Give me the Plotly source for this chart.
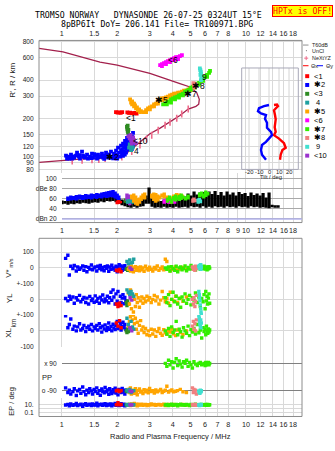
import math
import plotly.graph_objects as go

W, H = 335, 451

# ---------------- ticks / labels ----------------
freq_ticks_top = [1, 1.5, 2, 3, 4, 5, 6, 7, 8, 10, 12, 14, 16, 18]
freq_ticks_amp = [1, 1.5, 2, 3, 4, 5, 6, 7, 8, 9, 10, 12, 14, 16, 18]
height_ticks = [80, 90, 100, 120, 150, 200, 300, 400, 600, 800]
amp_ticks = [20, 40, 60, 80, 100]
amp_tick_text = ["dBn 20", "40", "60", "dBe 80", "100"]
tilt_ticks = [-20, -10, 0, 10, 20]

mode_names = ["<1", "✱2", "<3", " 4", "✱5", "<6", "✱7", "✱8", " 9", "<10"]
mode_colors = ["#ff0000", "#0000ff", "#2e8b22", "#1fa0a0", "#ffa500",
               "#ff00ff", "#33ee00", "#f08080", "#40e0d0", "#9a32cd"]

# ---------------- top panel: profile ----------------
prof_f = [0.753, 1.016, 1.614, 2.0, 3.01, 3.87, 4.38, 4.97, 5.40, 5.58, 5.54, 5.35,
          4.86, 4.38, 3.87, 3.42, 3.01, 2.66, 2.45, 2.25, 2.0, 1.614, 1.257, 0.98, 0.753]
prof_h = [710, 667, 554, 525, 451, 395, 375, 353, 319, 283, 259, 249,
          237, 211, 187, 168, 152, 131, 116.6, 106.7, 100.6, 97.5, 96.2, 93.7, 90.4]

nexyz_f = [1.14, 1.29, 1.46, 1.59, 1.72, 1.95, 2.12, 2.40, 2.66, 2.89, 3.08, 3.34, 3.64, 3.87, 4.21, 4.48, 4.86]
nexyz_h = [93, 94, 95, 95.5, 97, 100, 100, 110, 124, 138, 148, 162, 177, 187, 201, 217, 237]

# ---------------- top panel: echoes (freq MHz, range km) ----------------
top_blue_f = [1.055, 1.069, 1.095, 1.123, 1.138, 1.168, 1.196, 1.211, 1.241, 1.257, 1.289, 1.305, 1.338,
              1.372, 1.389, 1.424, 1.460, 1.479, 1.516, 1.554, 1.574, 1.614, 1.654, 1.676, 1.718, 1.740,
              1.784, 1.806, 1.851, 1.876, 1.922, 1.947, 1.972, 1.997, 2.022, 2.047, 2.073, 2.099, 2.125,
              2.125, 2.152, 2.179, 2.179, 2.206, 2.206, 2.234, 2.234, 2.262, 2.262, 2.290, 2.290, 2.319,
              2.348, 2.348, 2.378, 2.408, 2.408, 2.438, 2.438,
              1.10, 1.15, 1.25, 1.32, 1.45, 1.50, 1.58, 1.66, 1.70, 1.76, 1.82, 1.90, 1.95, 2.00, 2.10,
              2.15, 2.20, 2.25, 2.28, 2.32, 2.36, 2.40]
top_blue_h = [102.4, 97.1, 100.6, 104.2, 97.1, 98.8, 102.4, 108.0, 100.6, 97.1, 109.9, 102.4, 98.8,
              104.2, 97.1, 100.6, 106.1, 98.8, 102.4, 97.1, 104.2, 100.6, 106.1, 98.8, 102.4, 108.0,
              98.8, 104.2, 109.9, 100.6, 106.1, 98.8, 111.9, 104.2, 118.0, 108.0, 100.6, 122.3, 113.9,
              106.1, 126.7, 118.0, 109.9, 133.7, 124.5, 115.9, 108.0, 141.0, 131.3, 122.3, 113.9, 148.7,
              136.1, 126.7, 118.0, 143.5, 131.3, 154.1, 122.3,
              97, 101, 103, 100, 98, 105, 99, 102, 96.5, 104, 99, 97.5, 103, 97, 112,
              102, 104, 125, 135, 128, 142, 115]
top_red_f = [1.97, 2.01, 2.05, 2.09, 2.13, 2.27, 2.31, 2.35, 2.40, 2.45, 2.50, 2.55]
top_red_h = [224, 222, 223, 221, 224, 223, 221, 222, 220, 219, 221, 218]
top_dgreen_f = [2.26, 2.27, 2.28, 2.29, 2.28, 2.30]
top_dgreen_h = [172, 166, 160, 155, 176, 163]
top_teal_f = [2.32, 2.36, 2.40, 2.34, 2.38, 2.43]
top_teal_h = [118, 121, 117, 125, 113, 119]
top_purple_f = [2.30, 2.34, 2.38, 2.42, 2.46, 2.52, 2.36, 2.44, 2.40]
top_purple_h = [145, 140, 135, 130, 136, 128, 148, 142, 127]
top_orange_f = [2.35, 2.38, 2.41, 2.44, 2.47, 2.50, 2.53, 2.56, 2.59, 2.63, 2.66, 2.69, 2.41, 2.47,
                2.79, 2.87, 2.94, 3.01, 3.09, 3.17, 3.25, 3.33, 3.42, 3.50, 3.59, 3.68, 3.77, 3.87,
                3.97, 4.07, 4.17, 4.28, 4.38, 4.49, 4.61, 4.73, 4.85, 4.97, 5.10,
                2.87, 3.01, 3.17, 3.33, 3.50, 3.68, 3.87, 4.07, 4.28, 4.49, 4.73, 4.97]
top_orange_h = [282, 267, 258, 262, 249, 253, 240, 244, 232, 236, 224, 228, 272, 262,
                224, 232, 240, 244, 249, 258, 262, 272, 282, 287, 287, 292, 297, 303,
                308, 313, 313, 319, 319, 325, 331, 331, 337, 343, 349,
                224, 236, 249, 262, 277, 282, 292, 303, 308, 313, 319, 331]
top_mag_f = [3.42, 3.50, 3.59, 3.68, 3.77, 3.87, 3.97, 4.07, 4.17, 4.28, 4.38, 4.49, 3.50, 3.68, 3.87, 4.07, 4.28]
top_mag_h = [525, 534, 544, 554, 564, 574, 584, 594, 605, 605, 616, 627, 516, 534, 554, 574, 584]
top_lime_f = [3.55, 3.64, 3.72, 3.82, 3.92, 4.02, 4.12, 4.23, 4.33, 4.43, 4.55, 4.67, 4.79, 4.91, 5.03,
              5.16, 5.29, 5.42, 5.56, 5.70, 5.85, 5.99, 6.15, 6.31, 6.38,
              3.72, 3.92, 4.12, 4.33, 4.55, 4.79, 5.03, 5.29, 5.56, 5.85, 6.15]
top_lime_h = [258, 262, 267, 272, 282, 287, 292, 297, 303, 308, 313, 325, 331, 337, 349,
              355, 361, 375, 381, 395, 409, 424, 439, 455, 472,
              258, 267, 282, 292, 303, 319, 337, 349, 368, 395, 424]
top_sal_f = [5.18, 5.22, 5.28, 5.33, 5.25]
top_sal_h = [378, 368, 358, 372, 350]
top_cyan_f = [5.62, 5.65, 5.68, 5.70, 5.66, 5.72, 5.75, 5.70]
top_cyan_h = [495, 480, 465, 450, 440, 425, 410, 400]

# echo labels (text, freq, range)
lab_text = ["<1", "✱2", "4", "<10", "✱5", "<6", "✱7", "✱8", "9"]
lab_f = [2.378, 1.876, 2.53, 2.66, 3.46, 4.02, 4.97, 5.49, 5.99]
lab_h = [201, 99.5, 112, 133.7, 277, 574, 313, 361, 424]

# ---------------- tilt inset ----------------
tiltx_deg = [5, 8, 9, 5, 6, 6.7, 5.7, 6.7, 5, 10, 15, 16.7, 13.4, 11.7, 11]
tiltx_h = [255, 257, 250, 232, 213, 197, 171, 157, 148, 139, 128, 118, 113, 104, 95]
tilty_deg = [0, -5, -10, -11, -8, -3, -4, -2, -2, 2, 3, 0, -3, -7, -8, -7, -3]
tilty_h = [255, 250, 241, 228, 219, 213, 199, 185, 169, 157, 148, 139, 131, 124, 113, 104, 95]

# ---------------- amplitude panel ----------------
amp_f = [1.004, 1.042, 1.082, 1.123, 1.166, 1.211, 1.257, 1.305, 1.355, 1.407,
         1.461, 1.516, 1.574, 1.635, 1.697, 1.762, 1.829, 1.899, 1.972, 2.047,
         2.125, 2.206, 2.290, 2.378, 2.469, 2.563, 2.661, 2.763, 2.868, 2.978,
         3.092, 3.210, 3.332, 3.460, 3.592, 3.729, 3.872, 4.020, 4.173, 4.333,
         4.498, 4.670, 4.849, 5.034, 5.226, 5.426, 5.633, 5.849, 6.072, 6.304,
         6.545, 6.795, 7.054, 7.324, 7.603, 7.894, 8.195, 8.508, 8.833, 9.171,
         9.521, 9.885, 10.26, 10.65, 11.06, 11.48, 11.92, 12.38, 12.85, 13.34,
         13.85, 14.38, 14.93]
amp_lo = [49, 50, 48, 50, 49, 51, 50, 52, 51, 50, 52, 53, 52, 54, 53, 55, 54, 55, 53, 50,
          47, 45, 43, 42, 44, 42, 44, 45, 50, 50, 44, 42, 43, 42, 44, 42, 43, 42, 44, 42,
          43, 44, 42, 45, 43, 44, 42, 45, 42, 44, 42, 45, 43, 44, 42, 45, 43, 44, 42, 45,
          43, 44, 42, 45, 43, 44, 42, 43, 42, 41, 43, 42, 42]
amp_hi = [56, 55, 57, 58, 57, 59, 58, 60, 59, 61, 60, 62, 61, 63, 64, 63, 65, 66, 64, 60,
          58, 56, 58, 55, 53, 55, 57, 60, 66, 82, 60, 57, 56, 55, 58, 57, 56, 58, 57, 59,
          60, 64, 70, 66, 74, 68, 72, 73, 70, 74, 69, 75, 67, 73, 66, 74, 68, 72, 66, 73,
          69, 71, 65, 72, 67, 70, 66, 71, 62, 72, 48, 47, 47]

amp_blue_f = [1.08, 1.12, 1.16, 1.20, 1.25, 1.30, 1.35, 1.40, 1.45, 1.50, 1.55, 1.60, 1.65, 1.70,
              1.75, 1.80, 1.85, 1.90, 1.95, 2.00, 2.04]
amp_blue_lo = [55, 56, 57, 56, 58, 57, 58, 59, 58, 60, 59, 61, 60, 62, 61, 62, 63, 62, 60, 58, 56]
amp_blue_hi = [64, 66, 65, 67, 68, 67, 69, 68, 70, 69, 71, 70, 72, 73, 74, 75, 76, 77, 74, 70, 66]
amp_red_f = [2.00, 2.04, 2.08]
amp_red_lo = [49, 50, 51]
amp_red_hi = [56, 57, 55]
amp_dgreen_f = [2.22, 2.26]
amp_dgreen_lo = [52, 51]
amp_dgreen_hi = [60, 58]
amp_purple_f = [2.26, 2.30, 2.34, 2.38]
amp_purple_lo = [55, 50, 47, 52]
amp_purple_hi = [70, 68, 62, 60]
amp_teal_f = [2.28, 2.33, 2.38, 2.43]
amp_teal_lo = [50, 51, 52, 50]
amp_teal_hi = [58, 59, 57, 56]
amp_orange_f = [2.40, 2.46, 2.52, 2.58, 2.64, 2.70, 2.76, 2.82, 3.08, 3.16, 3.24, 3.32, 3.40, 3.50,
                3.60, 3.75, 3.90, 4.05, 4.20, 4.35, 4.50]
amp_orange_lo = [58, 52, 48, 46, 50, 55, 60, 58, 60, 55, 52, 54, 58, 62, 60, 55, 50, 56, 62, 64, 60]
amp_orange_hi = [68, 70, 66, 60, 62, 66, 70, 72, 70, 72, 71, 68, 66, 70, 72, 66, 64, 68, 71, 70, 68]
amp_mag_f = [3.60, 3.70, 3.80, 3.90, 4.00, 4.10]
amp_mag_lo = [50, 52, 50, 53, 51, 50]
amp_mag_hi = [58, 60, 57, 60, 58, 57]
amp_lime_f = [3.75, 3.85, 3.95, 4.05, 4.15, 4.25, 4.35, 4.45, 4.55, 4.70, 4.85, 5.60, 5.75, 5.90, 6.05, 6.20]
amp_lime_lo = [52, 55, 50, 56, 54, 58, 55, 57, 60, 56, 58, 62, 64, 60, 63, 66]
amp_lime_hi = [62, 66, 60, 65, 68, 64, 67, 70, 66, 64, 68, 72, 74, 70, 76, 73]
amp_sal_f = [5.15, 5.22, 5.30]
amp_sal_lo = [52, 54, 53]
amp_sal_hi = [60, 62, 59]
amp_cyan_f = [5.50, 5.58, 5.66]
amp_cyan_lo = [50, 52, 51]
amp_cyan_hi = [60, 61, 58]

# ---------------- lower panel: V*, YL, XL, PP, EP per mode ----------------
lb_f = [1.05, 1.08, 1.10, 1.12, 1.15, 1.17, 1.20, 1.22, 1.25, 1.27, 1.30, 1.32, 1.35, 1.37, 1.40, 1.42,
        1.45, 1.47, 1.50, 1.52, 1.55, 1.57, 1.60, 1.62, 1.65, 1.67, 1.70, 1.72, 1.75, 1.77, 1.80, 1.82,
        1.85, 1.87, 1.90, 1.92, 1.95, 1.97, 2.00, 2.02, 2.05, 2.08, 2.10, 2.13, 2.15, 2.18, 2.20, 2.23]
lb_v = [60, 80, -45, 10, -5, 15, -20, 5, -10, 0, 12, -15, 8, -25, 3, -8, 18, -12, 0, 6,
        -20, 10, -5, 15, -12, 2, -18, 8, -3, 12, -22, 5, -10, 16, -6, 0, -15, 10, -25, 4,
        20, -8, 12, -16, 6, -4, 14, -10]
lb_yl = [5, -10, 20, 0, 15, -25, 10, -5, 25, -15, 0, 12, -20, 8, -30, 18, -8, 3, -18, 22,
         -12, 6, -25, 14, -4, 28, -16, 2, -10, 20, -22, 10, 45, -6, 60, 15, -30, 35, -12, 50,
         -40, 20, -20, 8, 30, -28, 12, -8]
lb_xl = [95, 20, 40, 75, 10, 30, 0, 25, 45, 5, 15, 35, -5, 20, 30, 10, 40, 0, 25, 15,
         35, 5, 45, 20, -8, 30, 12, 38, 2, 22, 50, 10, 28, 0, 42, 18, 8, 35, 60, 15,
         25, 45, 5, 30, 55, 20, 40, 10]
lb_pp = [-70, -100, -85, -110, -95, -75, -120, -90, -80, -105, -65, -95, -115, -85, -100, -75, -90, -110, -80, -95,
         -70, -105, -88, -118, -78, -92, -102, -68, -96, -84, -112, -76, -94, -108, -82, -98, -72, -104, -86, -116,
         -80, -92, -100, -74, -96, -88, -110, -84]
lb_ep = [8, 12, 5, 15, 7, 10, 20, 6, 9, 14, 4, 11, 18, 7, 9, 13, 6, 16, 8, 10,
         25, 5, 12, 9, 14, 7, 11, 19, 6, 10, 13, 8, 15, 5, 9, 12, 22, 7, 10, 14,
         6, 11, 17, 8, 10, 13, 5, 9]

lr_f = [1.98, 2.02, 2.06, 2.10]
lr_v = [-15, -20, -10, -25]
lr_yl = [-30, -45, -25, -40]
lr_xl = [50, 30, 65, 20]
lr_pp = [-90, -85, -95, -88]
lr_ep = [10, 30, 9, 11]

lg_f = [2.24, 2.26, 2.28, 2.30]
lg_v = [-10, -5, -15, 0]
lg_yl = [-20, -40, -10, -30]
lg_xl = [0, -10, 10, -5]
lg_pp = [-90, -95, -85, -92]
lg_ep = [10, 9, 11, 10]

lo_f = [2.30, 2.33, 2.36, 2.39, 2.42, 2.45, 2.48, 2.51, 2.54, 2.57, 2.60, 2.64, 2.68, 2.72, 2.76, 2.80,
        2.85, 2.90, 2.95, 3.00, 3.06, 3.12, 3.18, 3.24, 3.30, 3.37, 3.44, 3.51, 3.58, 3.65, 3.72, 3.80,
        3.88, 3.96, 4.05, 4.15, 4.25, 4.40, 4.55, 4.75]
lo_v = [-10, 5, -20, 10, -5, -25, 0, 8, -15, -8, 3, -18, 6, -12, 0, -22, 10, -6, -14, 4,
        -10, -20, 2, -8, 12, -16, -4, 6, -12, 55, 40, -6, -18, 0, -10, 5, -15, -8, 3, -12]
lo_yl = [40, -30, 60, -60, 20, -80, 0, -45, 30, -20, 10, -50, -10, 15, -25, 5, -15, 20, -5, 10,
         -20, 0, 25, -10, 15, -30, -5, 50, 10, -15, 5, -25, 45, 0, -10, 20, -20, 8, -12, 15]
lo_xl = [30, 60, 90, 20, 70, 100, 45, 80, 10, 55, -15, 35, 65, 5, 25, -10, 15, -25, 0, -30,
         10, -20, 5, -35, -5, 15, -15, -28, 8, -12, -22, 0, -8, 12, -18, -30, 5, -10, -25, 0]
lo_pp = [-80, -100, -70, -110, -90, -85, -105, -75, -95, -115, -88, -78, -98, -92, -108, -82, -96, -86, -102, -74,
         -94, -88, -104, -84, -96, -90, -80, -100, -92, -86, -60, -98, -90, -84, -96, -92, -88, -80, -96, -100]
lo_ep = [8, 12, 6, 15, 10, 7, 20, 9, 11, 5, 14, 8, 10, 13, 7, 9, 12, 6, 10, 8,
         15, 9, 11, 7, 10, 12, 8, 9, 14, 6, 10, 11, 9, 8, 12, 10, 7, 9, 11, 8]

lt_f = [2.26, 2.30, 2.34, 2.38, 2.42, 2.46]
lt_v = [40, 25, 50, 30, 35, 55]
lt_yl = [60, 45, 30, 50, 35, 20]
lt_xl = [80, 40, 15, 60, 25, 10]
lt_pp = [-85, -95, -80, -100, -90, -88]
lt_ep = [10, 8, 12, 9, 11, 10]

lp_f = [2.35, 2.40]
lp_v = [0, -10]
lp_yl = [10, -5]
lp_xl = [20, 0]
lp_pp = [-90, -95]
lp_ep = [10, 9]

ll_f = [3.65, 3.72, 3.80, 3.87, 3.95, 4.02, 4.10, 4.18, 4.26, 4.34, 4.42, 4.50, 4.58, 4.67, 4.76, 4.85,
        4.94, 5.03, 5.12, 5.22, 5.32, 5.45, 5.55, 5.65, 5.75, 5.85, 5.92, 6.00, 6.05, 6.10, 6.15, 6.20,
        6.25, 6.30, 6.35]
ll_v = [0, -10, 5, -20, 8, -5, -15, 10, -25, 0, 6, -12, -4, 12, -18, 2, -8, 15, -6, 0,
        -14, 4, 8, -10, 6, -4, 10, -8, 0, 5, -12, 3, -6, 8, -2]
ll_yl = [10, -20, 30, -40, 0, 45, -15, 20, -30, 5, -50, 15, -10, 35, -25, 0, 25, -35, 10, -5,
         40, -20, 15, -45, 5, -15, 30, -60, 50, -10, 20, -30, 8, 35, -25]
ll_xl = [0, -20, 15, -35, 25, -10, 5, 60, -25, 10, -5, -40, 20, 0, -15, 30, -30, 8, -8, 15,
         -20, 40, -12, 5, -45, 20, -5, 10, -25, 30, 0, -15, 12, -8, 5]
ll_pp = [90, 70, 110, 80, 100, 60, 95, 120, 75, 105, 85, 65, 100, 90, 110, 70, 95, 80, 60, 100,
         85, 75, 90, 95, 80, 85, 90, 75, 95, 80, 90, 85, 95, 80, 90]
ll_ep = [8, 12, 6, 10, 14, 7, 9, 11, 5, 10, 13, 8, 10, 7, 12, 9, 6, 11, 10, 8,
         14, 9, 7, 10, 12, 8, 10, 9, 11, 7, 10, 12, 8, 9, 10]

ls_f = [5.12, 5.18, 5.22, 5.28, 5.32, 5.38]
ls_v = [5, -10, 0, -15, 10, -5]
ls_yl = [0, -30, 10, -45, -15, 25]
ls_xl = [30, 60, 10, 45, 0, 70]
ls_pp = [-70, -100, -80, -95, -85, -110]
ls_ep = [10, 8, 12, 9, 11, 7]

lc_f = [5.55, 5.58, 5.60, 5.62, 5.65, 5.68, 5.70, 5.72]
lc_v = [10, 0, 15, -5, 8, 20, -10, 5]
lc_yl = [50, 30, 10, -10, -35, -60, -80, -95]
lc_xl = [95, 80, 60, 45, 30, 70, 20, 50]
lc_pp = [-90, -100, -95, -105, -85, -98, -92, -88]
lc_ep = [8, 10, 6, 12, 9, 7, 11, 10]

# ---------------- helpers ----------------
def PX(x):
    return x / W


def PY(y):
    return 1 - y / H


FONT = "Liberation Sans, Arial, sans-serif"
MONO = "DejaVu Sans Mono, monospace"
GRID = "#d9d9d9"
FRAME = "#8c8c8c"
TXT = "#222222"

fig = go.Figure()


def squares(x, y, color, xa, ya, size=3.6):
    fig.add_trace(go.Scatter(x=x, y=y, mode="markers", xaxis=xa, yaxis=ya,
                             marker=dict(symbol="square", size=size, color=color, line=dict(width=0)),
                             showlegend=False, hoverinfo="skip"))


def segments(f, lo, hi, color, width):
    xs, ys = [], []
    for a, b, c in zip(f, lo, hi):
        xs += [a, a, None]
        ys += [b, c, None]
    fig.add_trace(go.Scatter(x=xs, y=ys, mode="lines", xaxis="x3", yaxis="y3",
                             line=dict(color=color, width=width), connectgaps=False,
                             showlegend=False, hoverinfo="skip"))


# ---------------- top panel ----------------
fig.add_trace(go.Scatter(x=prof_f, y=prof_h, mode="lines", xaxis="x", yaxis="y",
                         line=dict(color="#a3204c", width=1.3), showlegend=False, hoverinfo="skip"))
fig.add_trace(go.Scatter(x=nexyz_f, y=nexyz_h, mode="markers", xaxis="x", yaxis="y",
                         marker=dict(symbol="line-ns", size=5, line=dict(color="#ee6a8a", width=1.6)),
                         showlegend=False, hoverinfo="skip"))

top_sets = [(top_blue_f, top_blue_h, 1), (top_red_f, top_red_h, 0), (top_dgreen_f, top_dgreen_h, 2),
            (top_teal_f, top_teal_h, 3), (top_purple_f, top_purple_h, 9), (top_orange_f, top_orange_h, 4),
            (top_mag_f, top_mag_h, 5), (top_lime_f, top_lime_h, 6), (top_sal_f, top_sal_h, 7),
            (top_cyan_f, top_cyan_h, 8)]
for fx, hy, ci in top_sets:
    squares(fx, hy, mode_colors[ci], "x", "y", 3.8)

# tilt inset
fig.add_trace(go.Scatter(x=tiltx_deg, y=tiltx_h, mode="lines", xaxis="x2", yaxis="y",
                         line=dict(color="#ff0000", width=2.4), showlegend=False, hoverinfo="skip"))
fig.add_trace(go.Scatter(x=tilty_deg, y=tilty_h, mode="lines", xaxis="x2", yaxis="y",
                         line=dict(color="#0000ff", width=2.4), showlegend=False, hoverinfo="skip"))

# ---------------- amplitude panel ----------------
segments(amp_f, amp_lo, amp_hi, "#000000", 3.2)
amp_sets = [(amp_blue_f, amp_blue_lo, amp_blue_hi, 1), (amp_red_f, amp_red_lo, amp_red_hi, 0),
            (amp_dgreen_f, amp_dgreen_lo, amp_dgreen_hi, 2), (amp_purple_f, amp_purple_lo, amp_purple_hi, 9),
            (amp_teal_f, amp_teal_lo, amp_teal_hi, 3), (amp_orange_f, amp_orange_lo, amp_orange_hi, 4),
            (amp_mag_f, amp_mag_lo, amp_mag_hi, 5), (amp_lime_f, amp_lime_lo, amp_lime_hi, 6),
            (amp_sal_f, amp_sal_lo, amp_sal_hi, 7), (amp_cyan_f, amp_cyan_lo, amp_cyan_hi, 8)]
for fx, lo, hi, ci in amp_sets:
    segments(fx, lo, hi, mode_colors[ci], 3.4)

# ---------------- lower panel ----------------
low_sets = [(lb_f, lb_v, lb_yl, lb_xl, lb_pp, lb_ep, 1), (lr_f, lr_v, lr_yl, lr_xl, lr_pp, lr_ep, 0),
            (lg_f, lg_v, lg_yl, lg_xl, lg_pp, lg_ep, 2), (lo_f, lo_v, lo_yl, lo_xl, lo_pp, lo_ep, 4),
            (lt_f, lt_v, lt_yl, lt_xl, lt_pp, lt_ep, 3), (lp_f, lp_v, lp_yl, lp_xl, lp_pp, lp_ep, 9),
            (ll_f, ll_v, ll_yl, ll_xl, ll_pp, ll_ep, 6), (ls_f, ls_v, ls_yl, ls_xl, ls_pp, ls_ep, 7),
            (lc_f, lc_v, lc_yl, lc_xl, lc_pp, lc_ep, 8)]
for fx, v, yl, xl, pp, ep, ci in low_sets:
    c = mode_colors[ci]
    squares(fx, v, c, "x4", "y4", 3.4)
    squares(fx, yl, c, "x5", "y5", 3.4)
    squares(fx, xl, c, "x6", "y6", 3.4)
    squares(fx, pp, c, "x7", "y7", 3.4)
    squares(fx, ep, c, "x8", "y8", 3.4)

# ---------------- axes ----------------
tickfont = dict(family=FONT, size=7.2, color=TXT)
ytickfont = dict(family=FONT, size=6.6, color=TXT)
fmt = lambda v: ("%g" % v)
XL_R = [-0.1232, 1.3039]
XR_R = [0.0016, 1.3039]


def xax(domain, rng, anchor, vals, show=False, side="bottom"):
    return dict(domain=domain, range=rng, type="log", anchor=anchor, side=side,
                tickmode="array", tickvals=vals, ticktext=[fmt(v) for v in vals],
                showticklabels=show, ticks="outside", ticklen=1, tickcolor="rgba(0,0,0,0)",
                tickangle=0, showgrid=True, gridcolor=GRID, gridwidth=1, zeroline=False, showline=False,
                tickfont=tickfont, fixedrange=True)


def yax(domain, rng, anchor, vals, text, typ="linear", gridcolor=GRID):
    return dict(domain=domain, range=rng, type=typ, anchor=anchor,
                tickmode="array", tickvals=vals, ticktext=text,
                ticks="outside", ticklen=3, tickcolor="rgba(0,0,0,0)",
                showgrid=True, gridcolor=gridcolor, gridwidth=1, zeroline=False, showline=False,
                tickfont=ytickfont, fixedrange=True)


layout = dict(
    width=W, height=H, margin=dict(l=0, r=0, t=0, b=0), autosize=False,
    paper_bgcolor="white", plot_bgcolor="rgba(0,0,0,0)", showlegend=False,
    font=dict(family=FONT, size=7.5, color=TXT),
    xaxis=xax([PX(39), PX(302)], XL_R, "y", freq_ticks_top, True, "top"),
    yaxis=yax([PY(172), PY(37)], [1.871, 2.913], "x", height_ticks, [fmt(v) for v in height_ticks], "log"),
    xaxis2=dict(domain=[PX(241.7), PX(298.3)], range=[-27.3, 29.3], anchor="y", visible=False, fixedrange=True),
    xaxis3=xax([PX(62), PX(302)], XR_R, "y3", freq_ticks_amp, False, "bottom"),
    yaxis3=yax([PY(222), PY(172)], [12.8, 109.7], "x3", amp_ticks, amp_tick_text, gridcolor="#a9a9a9"),
    xaxis4=xax([PX(39), PX(302)], XL_R, "y4", freq_ticks_top),
    yaxis4=yax([PY(284), PY(238)], [-100, 187.5], "x4", [100, 0, -100], ["100", "0", "+-100"]),
    xaxis5=xax([PX(39), PX(302)], XL_R, "y5", freq_ticks_top),
    yaxis5=yax([PY(316), PY(284)], [-100, 100], "x5", [100, 0, -100], ["", "0", ""]),
    xaxis6=xax([PX(39), PX(302)], XL_R, "y6", freq_ticks_top),
    yaxis6=yax([PY(348), PY(316)], [-100, 100], "x6", [100, 0, -100], ["+-100", "0", "-100"]),
    xaxis7=xax([PX(62), PX(302)], XR_R, "y7", freq_ticks_top),
    yaxis7=yax([PY(400), PY(348)], [-135, 199.3], "x7", [90, -90], ["x 90", "o -90"], gridcolor="#808080"),
    xaxis8=xax([PX(39), PX(302)], XL_R, "y8", freq_ticks_top, True, "bottom"),
    yaxis8=yax([PY(419), PY(400)], [-2, 2.75], "x8", [10, 1, 0.1], ["10.", "", "0.1"], "log"),
)
fig.update_layout(**layout)

# ---------------- shapes ----------------
shapes = [
    dict(type="rect", xref="paper", yref="paper", x0=PX(39), x1=PX(302), y0=PY(222), y1=PY(37),
         line=dict(color=FRAME, width=1)),
    dict(type="rect", xref="paper", yref="paper", x0=PX(39), x1=PX(302), y0=PY(419), y1=PY(238),
         line=dict(color=FRAME, width=1)),
    dict(type="rect", xref="paper", yref="paper", x0=PX(241.7), x1=PX(298.3), y0=PY(168), y1=PY(65),
         line=dict(color="#a8a8b8", width=1)),
    dict(type="line", xref="paper", yref="y3", x0=PX(62), x1=PX(302), y0=20, y1=20,
         line=dict(color="#b4b4ee", width=1.5)),
]
for t in tilt_ticks:
    shapes.append(dict(type="line", xref="x2", yref="paper", x0=t, x1=t, y0=PY(168), y1=PY(65),
                       line=dict(color="#d4d4d4", width=1), layer="below"))
# legend swatches
leg_y0 = 73.3
for i, c in enumerate(mode_colors):
    yc = leg_y0 + i * 8.97
    shapes.append(dict(type="rect", xref="paper", yref="paper", x0=PX(305.2), x1=PX(309.2),
                       y0=PY(yc + 2), y1=PY(yc - 2), fillcolor=c, line=dict(width=0)))
shapes += [
    dict(type="line", xref="paper", yref="paper", x0=PX(303), x1=PX(308.5), y0=PY(41.7), y1=PY(41.7),
         line=dict(color="#909090", width=1)),
    dict(type="line", xref="paper", yref="paper", x0=PX(303), x1=PX(308.5), y0=PY(62.7), y1=PY(62.7),
         line=dict(color="#ff0000", width=1)),
    dict(type="line", xref="paper", yref="paper", x0=PX(317), x1=PX(323), y0=PY(62.7), y1=PY(62.7),
         line=dict(color="#0000ff", width=1)),
    dict(type="line", xref="paper", yref="paper", x0=PX(304.2), x1=PX(308.2), y0=PY(55), y1=PY(55),
         line=dict(color="#ee6a8a", width=1)),
    dict(type="line", xref="paper", yref="paper", x0=PX(306.2), x1=PX(306.2), y0=PY(57), y1=PY(53),
         line=dict(color="#ee6a8a", width=1)),
    dict(type="circle", xref="paper", yref="paper", x0=PX(305.8), x1=PX(306.8), y0=PY(48), y1=PY(47),
         fillcolor="#000", line=dict(width=0)),
]
fig.update_layout(shapes=shapes)

# ---------------- annotations ----------------
ann = []


def txt(x, y, s, size=7.5, xanchor="center", angle=0, color=TXT, family=FONT, **kw):
    d = dict(x=PX(x), y=PY(y), xref="paper", yref="paper", text=s, showarrow=False,
             xanchor=xanchor, yanchor="middle", textangle=angle,
             font=dict(family=family, size=size, color=color))
    d.update(kw)
    ann.append(d)


txt(148.5, 11, "TROMSO NORWAY   DYNASONDE 26-07-25 0324UT 15°E", 8.2, family=MONO, color="#000")
txt(157, 20, "8pBP6It DoY= 206.141 File= TR100971.BPG", 8.2, family=MONO, color="#000")
txt(302, 7.5, "HPTx is OFF!", 8.2, family=MONO, color="#ff0000",
    bgcolor="#ffff00", bordercolor="#ff0000", borderwidth=1, borderpad=0)

txt(13, 78, "R', R / km", 8, angle=-90)
txt(9, 274, "V*", 8, angle=-90)
txt(10.5, 263, "m/s", 5.5, angle=-90)
txt(9, 299, "YL", 8, angle=-90)
txt(13.5, 324, "km", 6.5, angle=-90)
txt(9, 334, "XL", 8, angle=-90)
txt(12, 404, "EP / deg", 7.5, angle=-90)
txt(46.5, 379, "PP", 7.5)
txt(170.5, 439, "Radio and Plasma Frequency / MHz", 7.5)

# legend texts (small, tightly stacked like the reference)
txt(310, 41.4, "T60dB", 5.4, xanchor="left")
txt(310, 47.6, "UnCl", 5.4, xanchor="left")
txt(310, 55.0, "NeXtYZ", 5.4, xanchor="left")
txt(309, 62.7, "Θx", 5.6, xanchor="left")
txt(323.5, 62.7, "Θy", 5.6, xanchor="left")
for i, nm in enumerate(mode_names):
    txt(311.5, leg_y0 + i * 8.97, nm, 7.5, xanchor="left", color="#000")

# amplitude panel frequency labels, placed on the (identically scaled) top frequency axis
for v in freq_ticks_amp:
    ann.append(dict(x=math.log10(v), y=PY(230), xref="x", yref="paper", text=fmt(v), showarrow=False,
                    xanchor="center", yanchor="middle", font=dict(family=FONT, size=7.2, color=TXT)))

# inset tick labels
for t in tilt_ticks:
    ann.append(dict(x=t, y=PY(170.3), xref="x2", yref="paper", text=str(t), showarrow=False,
                    xanchor="center", yanchor="middle", font=dict(family=FONT, size=5.8, color=TXT)))
ann.append(dict(x=2, y=PY(175.6), xref="x2", yref="paper", text="Tilt / deg", showarrow=False,
                xanchor="center", yanchor="middle", font=dict(family=FONT, size=5.8, color=TXT)))

# echo labels in the height panel
for s, f, h in zip(lab_text, lab_f, lab_h):
    ann.append(dict(x=math.log10(f), y=math.log10(h), xref="x", yref="y", text=s, showarrow=False,
                    xanchor="center", yanchor="middle", font=dict(family=FONT, size=8.5, color="#000")))

fig.update_layout(annotations=ann)

fig.write_html("out.html")
